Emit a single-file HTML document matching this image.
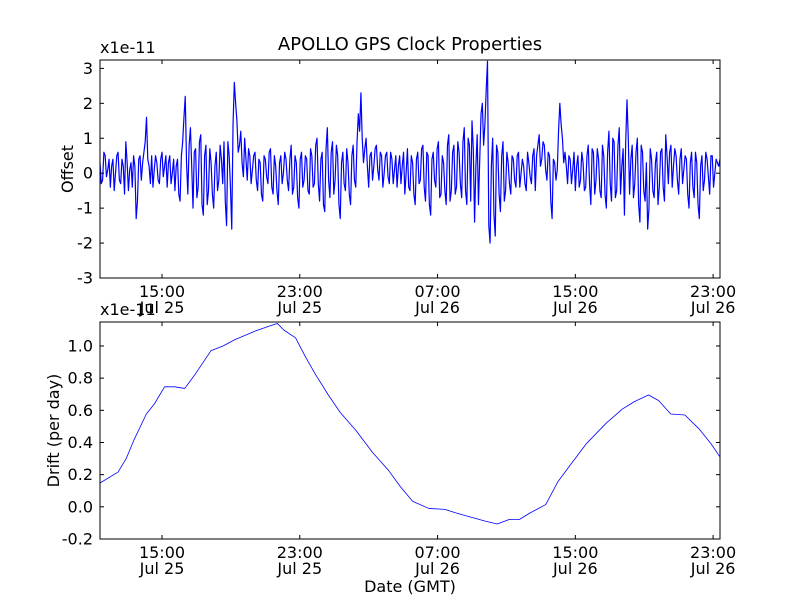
<!DOCTYPE html>
<html><head><meta charset="utf-8"><style>
body{margin:0;background:#fff;}
svg text{font-family:"DejaVu Sans","Liberation Sans",sans-serif;fill:#000;}
</style></head><body>
<svg id="chart" width="800" height="600" xmlns="http://www.w3.org/2000/svg">
<rect width="800" height="600" fill="#fff"/>
<text x="410" y="50" font-size="18" text-anchor="middle">APOLLO GPS Clock Properties</text>
</svg>
<script>
// Offset data (x1e-11), samples every 0.15 h starting 11:24 Jul 25
const offsetValues=[0.3,-0.2,0.5,0.1,-0.4,0.4,0.0,0.6,-0.3,0.2,0.9,-0.5,0.3,0.5,-1.3,0.4,-0.2,0.6,1.6,0.2,
0.5,0.1,0.3,-0.3,0.6,0.2,-0.4,0.5,0.0,-0.5,0.4,-0.8,0.9,2.2,-0.6,1.3,-1.0,0.7,-0.4,1.1,
-1.2,0.8,-0.5,0.3,-1.0,0.6,-0.2,0.4,0.9,-1.5,0.5,-1.6,2.6,1.5,0.8,0.3,1.0,-0.2,0.5,0.1,
0.6,-0.5,0.3,-0.8,0.4,-0.3,0.7,-0.6,0.2,-0.9,0.5,0.0,0.4,-0.5,0.8,-0.4,0.3,-1.0,0.6,-0.2,
0.4,-0.6,0.5,-0.3,1.0,-0.8,0.6,-1.1,1.3,-0.7,0.9,-0.2,0.5,-1.3,0.6,-0.5,0.3,-0.9,0.8,-0.4,
1.7,2.3,0.3,1.0,-0.4,0.6,0.2,0.8,-0.2,0.5,0.0,0.6,-0.3,0.4,0.1,-0.4,0.5,0.2,-0.6,0.7,
-0.5,0.3,-0.9,0.6,-0.2,0.8,-0.8,0.5,-1.2,0.6,-0.4,0.9,-0.6,0.3,-0.9,1.1,-0.5,0.8,-0.4,0.6,
-0.7,1.3,-0.9,0.8,1.5,-1.4,1.1,0.4,2.0,1.4,3.2,-2.0,1.0,-1.8,0.6,-1.1,0.9,-0.5,0.3,-0.6,
0.4,-0.4,0.6,0.0,0.2,-0.5,0.3,-0.3,0.7,0.5,1.1,0.4,0.8,-0.2,0.5,-1.3,0.3,0.1,2.0,1.0,
0.6,-0.3,0.4,0.1,-0.5,0.5,-0.2,0.3,-0.4,0.8,-0.9,0.6,-0.2,0.4,-0.7,0.5,-1.0,1.2,-0.8,0.9,
-0.5,1.3,0.2,-1.2,2.1,-0.6,0.8,-0.3,1.0,-1.4,0.6,-0.8,-1.6,0.7,-0.5,0.3,-0.9,0.6,-0.4,1.1,
-0.3,0.8,0.2,0.5,-0.6,0.7,0.1,0.4,-1.0,0.6,-0.7,0.3,-1.3,0.5,-0.2,0.4,-0.6,0.5,0.0,0.3,0.4];
// Offset data at the half-step sample times
const offsetHalfValues=[-0.3,0.6,-0.1,0.4,0.2,-0.5,0.5,-0.2,0.4,-0.6,0.3,0.1,-0.4,0.2,-0.8,0.5,0.3,0.9,0.4,-0.3,
-0.4,0.5,-0.2,0.4,-0.1,0.5,0.3,-0.3,0.4,0.2,-0.6,0.5,1.6,0.3,0.8,0.2,0.6,-0.7,0.9,-0.9,
0.5,-0.9,0.7,-0.6,0.2,-0.5,0.8,-0.3,-0.8,0.9,-0.4,1.4,2.0,0.6,1.2,-0.1,0.4,0.7,-0.3,0.5,
-0.2,0.4,-0.6,0.5,-0.1,0.6,-0.4,0.5,-0.5,0.3,-0.3,0.6,-0.2,0.4,-0.6,0.5,-0.7,0.4,-0.4,0.5,
-0.5,0.7,-0.4,0.8,-0.3,0.4,-0.9,0.7,-0.2,0.6,-0.6,0.8,-0.9,0.3,-0.3,0.7,-0.6,0.5,-0.2,0.9,
1.2,1.0,0.7,0.2,0.5,-0.2,0.7,0.1,0.6,-0.4,0.5,-0.1,0.6,-0.3,0.5,0.2,-0.3,0.6,0.0,-0.4,
0.5,-0.6,0.4,-0.3,0.7,-0.4,0.6,-0.9,0.4,-0.2,0.7,-0.7,0.5,-0.5,0.8,-0.8,0.6,-0.6,0.9,-0.3,
0.9,-0.5,1.0,-0.8,0.7,0.2,-0.9,1.7,0.8,2.4,-1.5,0.2,-1.2,0.8,-0.6,0.5,-0.8,0.6,-0.3,0.5,
-0.2,0.5,-0.4,0.4,-0.3,0.6,-0.1,0.5,-0.5,0.8,0.2,0.9,0.1,0.6,-0.8,0.4,-0.2,1.2,1.4,0.3,
0.2,0.5,-0.3,0.6,0.2,-0.4,0.6,-0.5,0.5,-0.3,0.7,-0.6,0.7,-0.5,0.8,-0.6,0.6,-0.3,1.0,-0.7,
0.8,-0.6,0.7,0.9,1.0,0.4,-0.7,0.6,-0.9,0.8,-0.5,0.3,-1.0,0.4,-0.7,0.6,-0.4,0.7,-0.8,0.5,
0.6,-0.4,0.7,-0.2,0.4,-0.3,0.5,-0.6,0.3,-0.4,0.6,-0.9,0.2,-0.5,0.6,-0.1,0.5,-0.4,0.4,0.2];
const offsetStep=0.15;
// Drift data: hours since start, value (x1e-11 per day)
const driftHours=[0,1.05,1.52,1.99,2.69,3.16,3.75,4.33,4.92,5.50,6.44,7.14,7.85,9.02,9.95,10.30,10.66,11.36,11.94,12.53,13.23,13.94,14.87,15.81,16.75,17.45,18.15,19.09,20.02,20.73,21.66,22.37,23.07,23.77,24.36,24.94,25.88,26.58,27.29,28.22,29.39,30.33,31.03,31.85,32.44,33.14,33.96,34.78,35.48,36];
const driftValues=[0.148,0.216,0.30,0.42,0.577,0.64,0.746,0.746,0.736,0.82,0.97,1.0,1.04,1.093,1.128,1.14,1.10,1.05,0.93,0.82,0.70,0.588,0.474,0.34,0.227,0.124,0.035,-0.01,-0.016,-0.04,-0.068,-0.089,-0.107,-0.078,-0.078,-0.04,0.014,0.155,0.258,0.39,0.52,0.608,0.654,0.695,0.66,0.577,0.571,0.485,0.392,0.31];
const xTickHours=[3.6,11.6,19.6,27.6,35.6];
const xTickTimes=["15:00","23:00","07:00","15:00","23:00"];
const xTickDates=["Jul 25","Jul 25","Jul 26","Jul 26","Jul 26"];
const offsetTicks=[3,2,1,0,-1,-2,-3];
const offsetTickLabels=["3","2","1","0","-1","-2","-3"];
const driftTicks=[1.0,0.8,0.6,0.4,0.2,0.0,-0.2];
const driftTickLabels=["1.0","0.8","0.6","0.4","0.2","0.0","-0.2"];

const svg=document.getElementById('chart');
const NS='http://www.w3.org/2000/svg';
function mk(tag,attrs,parent){const e=document.createElementNS(NS,tag);for(const k in attrs)e.setAttribute(k,attrs[k]);(parent||svg).appendChild(e);return e;}
const L=100,R=720,HMAX=36;
function xs(h){return L+(h/HMAX)*(R-L);}

function panel(name,top,bottom,ymin,ymax,ticks,tickLabels,xs_,ys_,color,width,ylabel,ylabelX){
  const g=mk('g',{});
  
  
  const ys=v=>bottom-(v-ymin)/(ymax-ymin)*(bottom-top);
  let d='';
  for(let i=0;i<ys_.length;i++){d+=(i?'L':'M')+xs(xs_[i]).toFixed(2)+','+ys(ys_[i]).toFixed(2);}
  const line=mk('path',{d:d,fill:'none',stroke:color,'stroke-width':width,'stroke-linejoin':'round'},g);
  
  
  const frame=mk('rect',{x:L,y:top,width:R-L,height:bottom-top,fill:'none',stroke:'#000','stroke-width':1},g);
  
  
  ticks.forEach((t,i)=>{
    const y=ys(t);
    mk('line',{x1:L,x2:L+4,y1:y,y2:y,stroke:'#000'},g);
    mk('line',{x1:R-4,x2:R,y1:y,y2:y,stroke:'#000'},g);
    const tx=mk('text',{x:L-7,y:y+5.5,'font-size':16,'text-anchor':'end'},g);
    tx.textContent=tickLabels[i];
    
    
  });
  xTickHours.forEach((h,i)=>{
    const x=xs(h);
    mk('line',{x1:x,x2:x,y1:bottom,y2:bottom-4,stroke:'#000'},g);
    mk('line',{x1:x,x2:x,y1:top,y2:top+4,stroke:'#000'},g);
    const t1=mk('text',{x:x,y:bottom+19,'font-size':16,'text-anchor':'middle'},g);
    t1.textContent=xTickTimes[i];
    
    
    const t2=mk('text',{x:x,y:bottom+35,'font-size':16,'text-anchor':'middle'},g);
    t2.textContent=xTickDates[i];
    
    
  });
  const off=mk('text',{x:L,y:top-7,'font-size':16},g);
  off.textContent='x1e-11';
  
  
  const cy=(top+bottom)/2;
  const yl=mk('text',{x:ylabelX,y:cy,'font-size':16,'text-anchor':'middle',transform:'rotate(-90 '+ylabelX+' '+cy+')'},g);
  yl.textContent=ylabel;
  
  
}
const offsetHours=[],offsetAll=[];
for(let i=0;i<offsetValues.length;i++){
  offsetHours.push(i*offsetStep);offsetAll.push(offsetValues[i]);
  if(i<offsetHalfValues.length){offsetHours.push(i*offsetStep+offsetStep/2);offsetAll.push(offsetHalfValues[i]);}
}
panel('offset',60,278,-3,3.24,offsetTicks,offsetTickLabels,offsetHours,offsetAll,'#0000ff',1.2,'Offset',73);
panel('drift',322,539,-0.2,1.149,driftTicks,driftTickLabels,driftHours,driftValues,'#0000ff',0.8,'Drift (per day)',59);
const xl=mk('text',{x:410,y:592,'font-size':16,'text-anchor':'middle'});
xl.textContent='Date (GMT)';


</script>
</body></html>
